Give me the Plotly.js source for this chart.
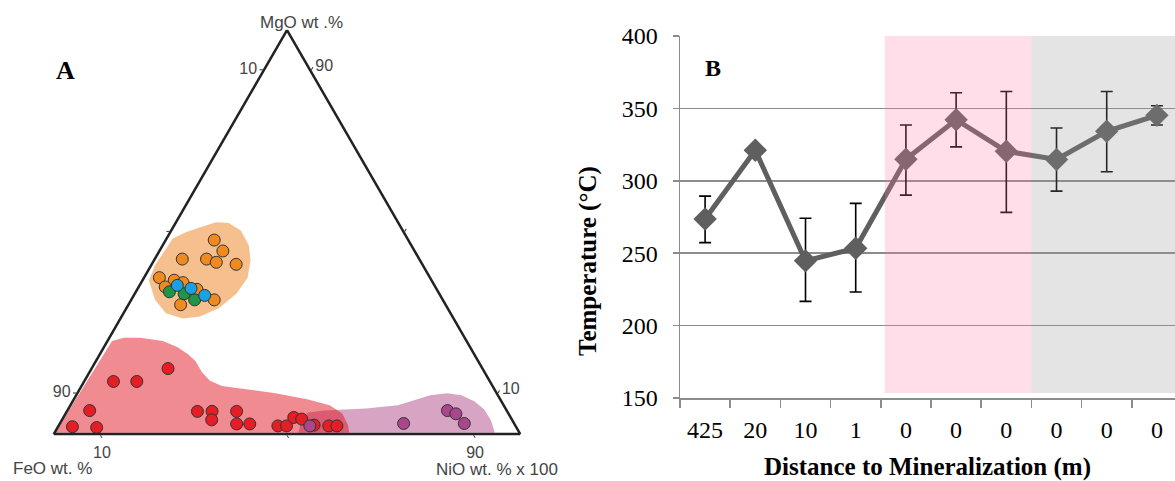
<!DOCTYPE html>
<html>
<head>
<meta charset="utf-8">
<script src="https://cdn.plot.ly/plotly-3.0.1.min.js"></script>
<style>
  html, body { margin: 0; padding: 0; background: #fff; overflow: hidden; }
  #chart { width: 1175px; height: 481px; }
</style>
</head>
<body>
<div id="chart"></div>
<script>
// ---------- Panel A: ternary MgO / FeO / NiO(x100) ----------
// values as [MgO, FeO, NiO] wt.% (normalised to 100)
const orangeMgO = [48.0, 45.3, 43.3, 43.3, 42.5, 42.0, 38.7, 38.1, 37.5, 36.4, 35.8, 33.2, 32.0];
const orangeFeO = [41.6, 41.1, 50.8, 45.6, 43.9, 39.9, 58.0, 55.2, 53.6, 57.9, 51.4, 49.0, 56.8];
const orangeNiO = [10.4, 13.6, 5.9, 11.1, 13.6, 18.1, 3.3, 6.8, 9.0, 5.7, 12.8, 17.8, 11.2];

const blueMgO = [36.8, 36.0, 34.3];
const blueFeO = [55.1, 52.5, 50.5];
const blueNiO = [8.1, 11.4, 15.2];

const greenMgO = [35.2, 34.7, 33.2];
const greenFeO = [57.6, 54.7, 53.2];
const greenNiO = [7.2, 10.6, 13.6];

const redMgO = [1.8, 1.6, 5.8, 13.0, 13.0, 16.2, 5.6, 5.6, 3.5, 5.6, 2.5, 2.5, 2.0, 2.0, 4.1, 3.7, 2.2, 2.0, 2.0];
const redFeO = [95.0, 90.0, 89.4, 80.7, 75.7, 67.4, 66.4, 63.2, 64.4, 58.0, 59.6, 56.8, 50.9, 49.1, 46.5, 45.0, 43.1, 40.0, 38.3];
const redNiO = [3.1, 8.4, 4.8, 6.3, 11.3, 16.4, 28.0, 31.1, 32.1, 36.4, 38.0, 40.8, 47.0, 48.9, 49.4, 51.3, 54.7, 57.9, 59.7];

const purpleMgO = [2.0, 2.6, 5.8, 5.0, 2.6];
const purpleFeO = [44.1, 23.7, 12.7, 11.3, 10.7];
const purpleNiO = [53.9, 73.7, 81.5, 83.7, 86.7];

// field outlines (hulls)
const orangeHullMgO = [38.0, 41.8, 45.3, 48.4, 49.9, 51.1, 52.4, 52.2, 50.4, 46.8, 43.0, 38.7, 34.7, 31.1, 29.1, 28.6, 29.9, 33.2];
const orangeHullFeO = [60.6, 57.4, 53.6, 50.3, 46.9, 43.2, 39.0, 36.4, 34.7, 34.8, 36.3, 39.1, 43.5, 49.1, 54.1, 58.1, 61.0, 61.7];
const orangeHullNiO = [1.4, 0.8, 1.1, 1.3, 3.2, 5.7, 8.6, 11.4, 14.9, 18.4, 20.7, 22.2, 21.8, 19.8, 16.8, 13.3, 9.1, 5.1];

const redHullMgO = [0.3, 23.0, 23.8, 23.8, 23.0, 21.5, 19.7, 18.0, 15.2, 13.2, 11.9, 11.1, 10.1, 8.6, 7.1, 5.1, 2.3, 0.3];
const redHullFeO = [99.6, 76.0, 73.1, 69.5, 65.1, 62.7, 61.3, 60.6, 60.6, 59.9, 58.0, 53.2, 47.4, 41.4, 37.3, 35.6, 35.8, 36.5];
const redHullNiO = [0.1, 1.0, 3.1, 6.7, 11.9, 15.8, 19.0, 21.4, 24.2, 26.9, 30.1, 35.7, 42.5, 50.0, 55.6, 59.3, 61.9, 63.2];

const purpleHullMgO = [0.3, 3.3, 5.3, 5.8, 6.3, 7.1, 8.4, 9.6, 10.1, 9.6, 8.1, 6.1, 3.3, 0.3];
const purpleHullFeO = [47.4, 45.3, 42.9, 39.1, 30.0, 22.7, 18.4, 14.5, 10.7, 7.8, 5.8, 4.7, 4.6, 5.3];
const purpleHullNiO = [52.3, 51.4, 51.8, 55.1, 63.7, 70.2, 73.2, 75.9, 79.2, 82.6, 86.1, 89.2, 92.1, 94.4];

const ternTitles = ['MgO wt .%', 'FeO wt. %', 'NiO wt. % x 100'];
const ternTickVals = [10, 50, 90];
const ternTickText = ['90', '', '10'];

// ---------- Panel B: temperature vs distance ----------
const distanceLabels = ['425', '20', '10', '1', '0', '0', '0', '0', '0', '0'];
const tempMean = [273.6, 321.1, 244.7, 253.4, 314.9, 342.2, 320.4, 314.7, 334.2, 345.2];
const tempErrPlus = [15.8, 0, 29.4, 31.0, 23.6, 18.6, 41.3, 21.8, 27.5, 6.6];
const tempErrMinus = [16.3, 0, 28.0, 30.2, 24.8, 18.8, 42.2, 21.8, 28.0, 6.7];
const yTicks = [150, 200, 250, 300, 350, 400];
const yTitle = 'Temperature (°C)';
const xTitle = 'Distance to Mineralization (m)';

const W = 1175, H = 481;
const px = v => v / W;
const py = v => 1 - v / H;

function hull(a, b, c, color) {
  return {type: 'scatterternary', mode: 'lines', a: a, b: b, c: c, fill: 'toself',
    fillcolor: color, line: {width: 0, color: 'rgba(0,0,0,0)'}, hoverinfo: 'skip', showlegend: false};
}
function pts(a, b, c, color) {
  return {type: 'scatterternary', mode: 'markers', a: a, b: b, c: c,
    marker: {size: 12, color: color, line: {color: '#333333', width: 1}}, showlegend: false};
}

const idx = distanceLabels.map((_, i) => i);

const traces = [
  hull(purpleHullMgO, purpleHullFeO, purpleHullNiO, '#d7a5c3'),
  hull(redHullMgO, redHullFeO, redHullNiO, 'rgba(223,11,21,0.47)'),
  hull(orangeHullMgO, orangeHullFeO, orangeHullNiO, '#f6c08e'),
  pts(redMgO, redFeO, redNiO, '#e41e24'),
  pts(purpleMgO, purpleFeO, purpleNiO, '#aa468c'),
  pts(orangeMgO, orangeFeO, orangeNiO, '#ef8a1f'),
  pts(greenMgO, greenFeO, greenNiO, '#1e9646'),
  pts(blueMgO, blueFeO, blueNiO, '#1ba1e2'),
  {
    type: 'scatter', mode: 'lines+markers', x: idx, y: tempMean, xaxis: 'x', yaxis: 'y',
    line: {color: '#5f5f5f', width: 5},
    marker: {symbol: 'diamond', size: 18, color: '#5f5f5f'},
    error_y: {type: 'data', symmetric: false, array: tempErrPlus, arrayminus: tempErrMinus,
      color: '#000000', thickness: 1.6, width: 6},
    showlegend: false
  }
];

const sans = 'Liberation Sans, Arial, sans-serif';
const serif = 'Liberation Serif, Times New Roman, serif';

const ternAxis = () => ({
  title: {text: ''},
  tickmode: 'array', tickvals: ternTickVals, ticktext: ternTickText,
  ticks: 'outside', ticklen: 3, tickcolor: '#333', tickwidth: 1,
  tickfont: {family: sans, size: 16, color: '#444'},
  showgrid: false, linecolor: '#222', linewidth: 2.5
});

const layout = {
  width: W, height: H,
  margin: {l: 0, r: 0, t: 0, b: 0},
  paper_bgcolor: '#ffffff', plot_bgcolor: '#ffffff',
  showlegend: false,
  ternary: {
    domain: {x: [px(47), px(527)], y: [py(434), py(30)]},
    sum: 100,
    bgcolor: '#ffffff',
    aaxis: ternAxis(),
    baxis: ternAxis(),
    caxis: ternAxis()
  },
  xaxis: {
    domain: [px(680), 1],
    range: [-0.5, 9.36],
    tickmode: 'array', tickvals: idx, ticktext: distanceLabels,
    ticks: '', ticklabelstandoff: 10,
    minor: {tickmode: 'array', tickvals: [-0.5, 0.5, 1.5, 2.5, 3.5, 4.5, 5.5, 6.5, 7.5, 8.5], ticks: 'outside', ticklen: 8, tickcolor: '#8c8c8c', tickwidth: 1.5, showgrid: false},
    showgrid: false, zeroline: false,
    showline: true, linecolor: '#8c8c8c', linewidth: 1.5,
    tickfont: {family: serif, size: 24, color: '#000'},
    title: {text: '<b>' + xTitle + '</b>', font: {family: serif, size: 25, color: '#000'}, standoff: 15}
  },
  yaxis: {
    domain: [py(398), py(36)],
    range: [150, 400],
    tickmode: 'array', tickvals: yTicks,
    ticks: 'outside', ticklen: 6, tickcolor: '#8c8c8c', tickwidth: 1.5,
    ticklabelstandoff: 10,
    showgrid: true, gridcolor: '#8c8c8c', gridwidth: 1.5, zeroline: false,
    showline: true, linecolor: '#8c8c8c', linewidth: 1.5,
    tickfont: {family: serif, size: 24, color: '#000'}
  },
  shapes: [
    {type: 'rect', xref: 'x', yref: 'y', x0: 3.58, x1: 6.5, y0: 153.5, y1: 400, layer: 'above',
      fillcolor: 'rgba(255,123,171,0.25)', line: {width: 0}},
    {type: 'rect', xref: 'x', yref: 'y', x0: 6.5, x1: 9.36, y0: 153.5, y1: 400, layer: 'above',
      fillcolor: 'rgba(150,150,150,0.26)', line: {width: 0}}
  ],
  annotations: [
    {text: '<b>A</b>', xref: 'paper', yref: 'paper', x: px(65), y: py(70), xanchor: 'center', yanchor: 'middle', showarrow: false,
      font: {family: serif, size: 26, color: '#000'}},
    {text: '<b>B</b>', xref: 'paper', yref: 'paper', x: px(713), y: py(68), xanchor: 'center', yanchor: 'middle', showarrow: false,
      font: {family: serif, size: 24, color: '#000'}},
    {text: '<b>' + yTitle + '</b>', xref: 'paper', yref: 'paper', x: px(588), y: py(261), xanchor: 'center', yanchor: 'middle',
      textangle: -90, showarrow: false, font: {family: serif, size: 25, color: '#000'}},
    {text: ternTitles[0], xref: 'paper', yref: 'paper', x: px(301), y: py(22), xanchor: 'center', yanchor: 'middle', showarrow: false,
      font: {family: sans, size: 17, color: '#444'}},
    {text: ternTitles[1], xref: 'paper', yref: 'paper', x: px(52), y: py(468), xanchor: 'center', yanchor: 'middle', showarrow: false,
      font: {family: sans, size: 17, color: '#444'}},
    {text: ternTitles[2], xref: 'paper', yref: 'paper', x: px(497), y: py(469), xanchor: 'center', yanchor: 'middle', showarrow: false,
      font: {family: sans, size: 17, color: '#444'}}
  ]
};

Plotly.newPlot('chart', traces, layout, {displayModeBar: false, staticPlot: true});
</script>
</body>
</html>
